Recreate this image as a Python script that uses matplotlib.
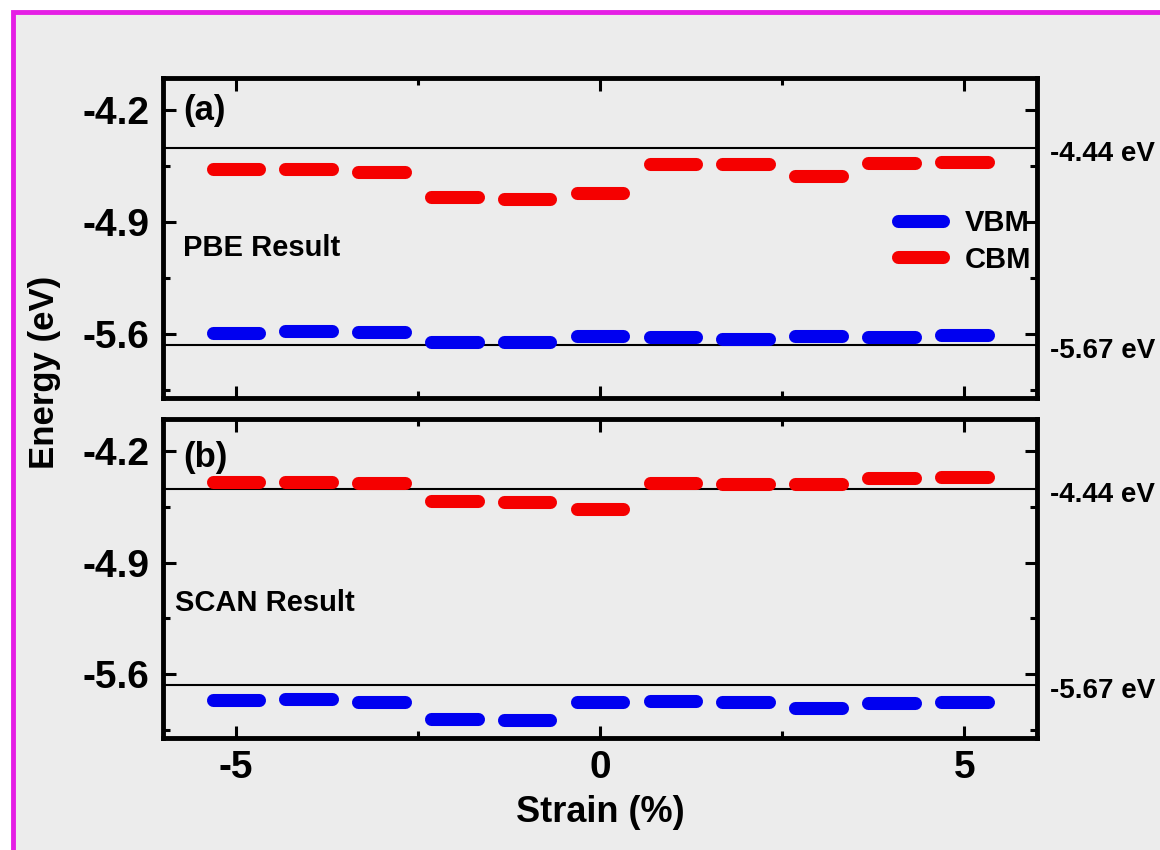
import numpy as np
import matplotlib.pyplot as plt
from matplotlib.lines import Line2D
from matplotlib.patches import Rectangle

# strain values (%) and band edges (eV)
strain = [-5, -4, -3, -2, -1, 0, 1, 2, 3, 4, 5]
pbe_vbm = [-5.592, -5.579, -5.585, -5.652, -5.652, -5.615, -5.620, -5.631, -5.610, -5.620, -5.608]
pbe_cbm = [-4.569, -4.570, -4.585, -4.742, -4.754, -4.720, -4.540, -4.535, -4.610, -4.530, -4.523]
scan_vbm = [-5.765, -5.757, -5.773, -5.883, -5.890, -5.773, -5.767, -5.773, -5.815, -5.780, -5.773]
scan_cbm = [-4.394, -4.394, -4.401, -4.515, -4.521, -4.562, -4.403, -4.405, -4.405, -4.370, -4.364]

ref_levels = [-4.44, -5.67]
ref_labels = ['-4.44 eV', '-5.67 eV']

y_major = [-4.2, -4.9, -5.6]
y_minor = [-4.55, -5.25, -5.95]
x_major = [-5, 0, 5]
x_minor = [-6, -2.5, 2.5, 6]

plt.rcParams['font.family'] = ['Liberation Sans', 'DejaVu Sans']
plt.rcParams['font.weight'] = 'bold'
plt.rcParams['axes.labelweight'] = 'bold'
plt.rcParams['axes.unicode_minus'] = False

BG = '#ececec'
RED = '#f50000'
BLUE = '#0000f0'

fig = plt.figure(figsize=(11.6, 8.5), dpi=100)
fig.patch.set_facecolor('white')
# magenta frame around the whole picture (right/bottom edges run off the image)
fig.patches.append(Rectangle((12.5 / 1160, -0.05), 1.1, 1 - 12.5 / 850 + 0.05,
                             transform=fig.transFigure, facecolor=BG,
                             edgecolor='#e51fe5', linewidth=3.5, zorder=-10))

ax_top = fig.add_axes([0.1405, 0.5318, 0.7535, 0.3764])
ax_bot = fig.add_axes([0.1405, 0.1318, 0.7535, 0.3753])


def draw_panel(ax, vbm, cbm, tag, tag_y, name, name_x, name_y):
    ax.set_facecolor(BG)
    x = np.array(strain, dtype=float)
    half = 0.32
    vb = ax.hlines(vbm, x - half, x + half, colors=BLUE, linewidth=9.4, zorder=3)
    cb = ax.hlines(cbm, x - half, x + half, colors=RED, linewidth=9.4, zorder=3)
    vb.set_capstyle('round')
    cb.set_capstyle('round')

    for lv, lb in zip(ref_levels, ref_labels):
        ax.axhline(lv, color='black', linewidth=1.5, zorder=2)
        ax.annotate(lb, xy=(1.015, lv), xycoords=ax.get_yaxis_transform(),
                    xytext=(0, -4), textcoords='offset points',
                    ha='left', va='center', fontsize=20, annotation_clip=False)

    ax.text(0.023, tag_y, tag, transform=ax.transAxes, fontsize=25,
            ha='left', va='center')
    ax.text(name_x, name_y, name, transform=ax.transAxes, fontsize=21,
            ha='left', va='center')

    ax.set_xlim(-6, 6)
    ax.set_ylim(-6, -4)
    ax.set_yticks(y_major)
    ax.set_yticks(y_minor, minor=True)
    ax.set_xticks(x_major)
    ax.set_xticks(x_minor, minor=True)
    ax.tick_params(which='both', direction='in', top=True, right=True, width=2.2)
    ax.tick_params(which='major', length=9, labelsize=28)
    ax.tick_params(which='minor', length=5)
    ax.tick_params(axis='y', which='major', pad=10)
    ax.tick_params(axis='x', which='major', pad=9)
    for s in ax.spines.values():
        s.set_linewidth(3.5)


draw_panel(ax_top, pbe_vbm, pbe_cbm, '(a)', 0.90, 'PBE Result', 0.023, 0.469)
draw_panel(ax_bot, scan_vbm, scan_cbm, '(b)', 0.878, 'SCAN Result', 0.014, 0.423)
ax_top.tick_params(axis='x', labelbottom=False)

handles = [Line2D([], [], color=BLUE, linewidth=9.4, solid_capstyle='round'),
           Line2D([], [], color=RED, linewidth=9.4, solid_capstyle='round')]
ax_top.legend(handles, ['VBM', 'CBM'], loc='center right', bbox_to_anchor=(1.0, 0.49),
              frameon=False, fontsize=21, handlelength=1.55, handletextpad=0.75,
              labelspacing=0.3, borderaxespad=0.0, borderpad=0.2)

ax_bot.set_xlabel('Strain (%)', fontsize=26, fontweight='bold', labelpad=6)
fig.text(45 / 1160, 1 - 372 / 850, 'Energy (eV)', rotation=90, fontsize=25,
         ha='center', va='center')

fig.savefig('out.png', dpi=100, facecolor=fig.get_facecolor())
